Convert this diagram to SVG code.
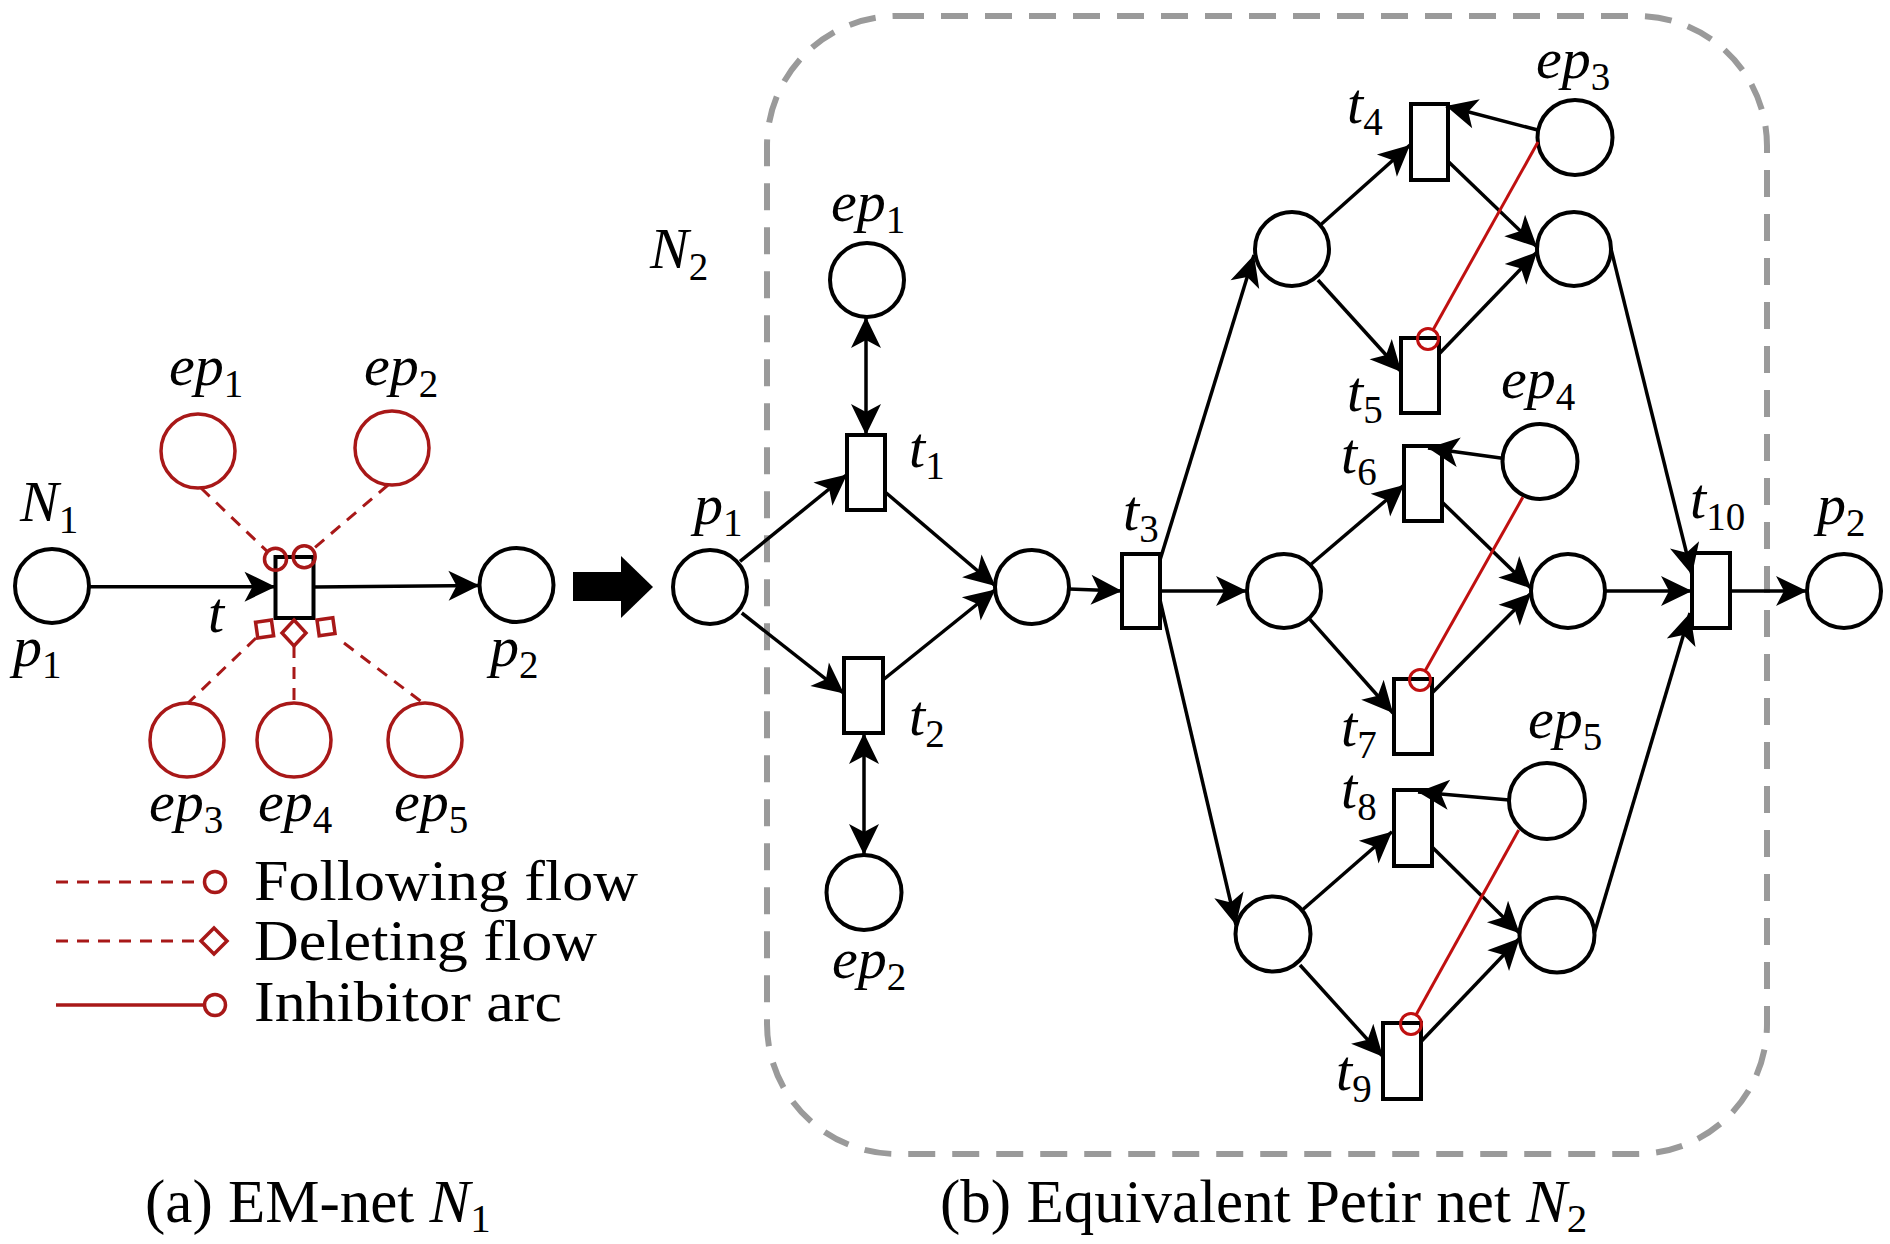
<svg xmlns="http://www.w3.org/2000/svg" width="1890" height="1244" viewBox="0 0 1890 1244">
<style>
text{font-family:"Liberation Serif","Times New Roman",serif;fill:#000}
.lb{font-size:58px;font-style:italic}
.sb{font-size:39px;font-style:normal}
.cap{font-size:61px}
.lg{font-size:58px}
.pl{fill:#fff;stroke:#000;stroke-width:4}
.tr{fill:#fff;stroke:#000;stroke-width:4}
.rp{fill:#fff;stroke:#a81818;stroke-width:3.5}
.ar{fill:none;stroke:#000;stroke-width:3.5;marker-end:url(#ah)}
.ar2{fill:none;stroke:#000;stroke-width:3.5;marker-end:url(#ah);marker-start:url(#ah)}
.rd{fill:none;stroke:#a81818;stroke-width:3;stroke-dasharray:12 9}
.ri{fill:none;stroke:#c01010;stroke-width:3}
.rs{fill:none;stroke:#a81818;stroke-width:3.5}
</style>
<defs>
<marker id="ah" viewBox="-32 -16 34 32" refX="0" refY="0" markerWidth="34" markerHeight="32" markerUnits="userSpaceOnUse" orient="auto-start-reverse">
<path d="M0,0 L-31,-15 L-23,0 L-31,15 Z" fill="#000"/>
</marker>
</defs>
<rect width="1890" height="1244" fill="#fff"/>

<!-- boundary of N2 -->
<rect id="boundary" x="767" y="16" width="1000" height="1138" rx="130" ry="130" fill="none" stroke="#9a9a9a" stroke-width="6" stroke-dasharray="27 17"/>

<!-- ============ Left panel (a) ============ -->
<g id="a-p1"><circle class="pl" cx="52" cy="586" r="37"/><text class="lb" x="13" y="666">p<tspan class="sb" dy="12">1</tspan></text></g>
<g id="a-t"><rect class="tr" x="275.5" y="557" width="38" height="61"/><text class="lb" x="208" y="632">t</text></g>
<g id="a-p2"><circle class="pl" cx="516.5" cy="585" r="37"/><text class="lb" x="490" y="666">p<tspan class="sb" dy="12">2</tspan></text></g>
<g id="a-ep1"><circle class="rp" cx="198" cy="451" r="37"/><text class="lb" x="169" y="385">ep<tspan class="sb" dy="12">1</tspan></text></g>
<g id="a-ep2"><circle class="rp" cx="392" cy="448" r="37"/><text class="lb" x="364" y="385">ep<tspan class="sb" dy="12">2</tspan></text></g>
<g id="a-ep3"><circle class="rp" cx="187" cy="740" r="37"/><text class="lb" x="149" y="821">ep<tspan class="sb" dy="12">3</tspan></text></g>
<g id="a-ep4"><circle class="rp" cx="294" cy="740" r="37"/><text class="lb" x="258" y="821">ep<tspan class="sb" dy="12">4</tspan></text></g>
<g id="a-ep5"><circle class="rp" cx="425" cy="740" r="37"/><text class="lb" x="394" y="821">ep<tspan class="sb" dy="12">5</tspan></text></g>
<text id="a-N1" class="lb" x="20" y="521">N<tspan class="sb" dy="12">1</tspan></text>

<g id="a-connectors">
<line class="ar" x1="89" y1="586.7" x2="275.5" y2="586.7"/>
<line class="ar" x1="313.8" y1="587" x2="479.5" y2="585.5"/>
<line class="rd" x1="201" y1="488" x2="267.5" y2="551.7"/>
<circle class="rs" cx="275.5" cy="559.3" r="11"/>
<line class="rd" x1="388" y1="485" x2="312.6" y2="549.5"/>
<circle class="rs" cx="304.2" cy="556.7" r="11"/>
<rect class="rs" x="256.6" y="621" width="16" height="16" transform="rotate(-8 264.6 629)"/>
<line class="rd" x1="256" y1="638" x2="188" y2="703"/>
<polygon class="rs" points="294,620 306,633 294,646 282,633"/>
<line class="rd" x1="294" y1="646" x2="294" y2="703"/>
<rect class="rs" x="318" y="618.7" width="16" height="16" transform="rotate(-8 326 626.7)"/>
<line class="rd" x1="344" y1="643" x2="423" y2="703"/>
</g>

<!-- legend -->
<g id="legend">
<line class="rd" x1="56" y1="882" x2="204" y2="882"/>
<circle class="rs" cx="215" cy="882" r="10.5"/>
<text class="lg" x="254" y="900" textLength="384" lengthAdjust="spacingAndGlyphs">Following flow</text>
<line class="rd" x1="56" y1="941" x2="201" y2="941"/>
<polygon class="rs" points="201,941 214,928 227,941 214,954"/>
<text class="lg" x="254" y="960" textLength="343" lengthAdjust="spacingAndGlyphs">Deleting flow</text>
<line class="rs" x1="56" y1="1005" x2="204" y2="1005"/>
<circle class="rs" cx="215" cy="1005" r="10.5"/>
<text class="lg" x="254" y="1021" textLength="308" lengthAdjust="spacingAndGlyphs">Inhibitor arc</text>
</g>

<!-- big transform arrow -->
<g id="big-arrow">
<rect x="573" y="572" width="50" height="29" fill="#000"/>
<polygon points="621,556 653,587 621,618" fill="#000"/>
</g>

<!-- ============ Right panel (b) ============ -->
<text id="b-N2" class="lb" x="650" y="268">N<tspan class="sb" dy="12">2</tspan></text>
<g id="b-p1"><circle class="pl" cx="710" cy="587" r="37"/><text class="lb" x="694" y="524">p<tspan class="sb" dy="12">1</tspan></text></g>
<g id="b-ep1"><circle class="pl" cx="867" cy="280" r="37"/><text class="lb" x="831" y="221">ep<tspan class="sb" dy="12">1</tspan></text></g>
<g id="b-t1"><rect class="tr" x="847" y="435" width="38" height="75"/><text class="lb" x="909" y="467">t<tspan class="sb" dy="12">1</tspan></text></g>
<g id="b-t2"><rect class="tr" x="844" y="658" width="39" height="75"/><text class="lb" x="909" y="735">t<tspan class="sb" dy="12">2</tspan></text></g>
<g id="b-ep2"><circle class="pl" cx="864" cy="892.5" r="37.5"/><text class="lb" x="832" y="978">ep<tspan class="sb" dy="12">2</tspan></text></g>
<g id="b-m"><circle class="pl" cx="1032" cy="587" r="37"/></g>
<g id="b-t3"><rect class="tr" x="1122" y="554" width="38" height="74"/><text class="lb" x="1123" y="530">t<tspan class="sb" dy="12">3</tspan></text></g>
<g id="b-a1"><circle class="pl" cx="1292" cy="249" r="37"/></g>
<g id="b-b1"><circle class="pl" cx="1574" cy="249" r="37"/></g>
<g id="b-ep3"><circle class="pl" cx="1575" cy="137.5" r="37.5"/><text class="lb" x="1536" y="78">ep<tspan class="sb" dy="12">3</tspan></text></g>
<g id="b-t4"><rect class="tr" x="1411" y="104" width="37" height="76"/><text class="lb" x="1347" y="123">t<tspan class="sb" dy="12">4</tspan></text></g>
<g id="b-t5"><rect class="tr" x="1401" y="338" width="38" height="75"/><text class="lb" x="1347" y="411">t<tspan class="sb" dy="12">5</tspan></text></g>
<g id="b-a2"><circle class="pl" cx="1284" cy="591" r="37"/></g>
<g id="b-b2"><circle class="pl" cx="1568" cy="591" r="37"/></g>
<g id="b-ep4"><circle class="pl" cx="1540" cy="461.5" r="37.5"/><text class="lb" x="1501" y="398">ep<tspan class="sb" dy="12">4</tspan></text></g>
<g id="b-t6"><rect class="tr" x="1404" y="446" width="38" height="75"/><text class="lb" x="1341" y="473">t<tspan class="sb" dy="12">6</tspan></text></g>
<g id="b-t7"><rect class="tr" x="1394" y="679" width="38" height="75"/><text class="lb" x="1341" y="746">t<tspan class="sb" dy="12">7</tspan></text></g>
<g id="b-a3"><circle class="pl" cx="1273" cy="934" r="37.5"/></g>
<g id="b-b3"><circle class="pl" cx="1557" cy="935" r="37.5"/></g>
<g id="b-ep5"><circle class="pl" cx="1547" cy="801" r="38"/><text class="lb" x="1528" y="738">ep<tspan class="sb" dy="12">5</tspan></text></g>
<g id="b-t8"><rect class="tr" x="1394" y="790" width="38" height="76"/><text class="lb" x="1341" y="808">t<tspan class="sb" dy="12">8</tspan></text></g>
<g id="b-t9"><rect class="tr" x="1383" y="1023" width="38" height="76"/><text class="lb" x="1336" y="1090">t<tspan class="sb" dy="12">9</tspan></text></g>
<g id="b-t10"><rect class="tr" x="1692" y="553" width="38" height="75"/><text class="lb" x="1690" y="518">t<tspan class="sb" dy="12">10</tspan></text></g>
<g id="b-p2"><circle class="pl" cx="1844" cy="591" r="37"/><text class="lb" x="1817" y="524">p<tspan class="sb" dy="12">2</tspan></text></g>

<g id="b-connectors">
<line class="ar" x1="740" y1="561.4" x2="847" y2="474.5"/>
<line class="ar" x1="741.8" y1="613" x2="844" y2="693.4"/>
<line class="ar2" x1="866" y1="317" x2="866" y2="435"/>
<line class="ar2" x1="864" y1="733" x2="864" y2="855"/>
<line class="ar" x1="885.7" y1="492.5" x2="995.4" y2="586"/>
<line class="ar" x1="882.9" y1="680" x2="995.4" y2="589.5"/>
<line class="ar" x1="1069" y1="589" x2="1122" y2="591"/>
<line class="ar" x1="1160" y1="560" x2="1254" y2="255"/>
<line class="ar" x1="1160" y1="591" x2="1247" y2="591"/>
<line class="ar" x1="1160" y1="600" x2="1236" y2="925"/>
<line class="ar" x1="1320.4" y1="225" x2="1410" y2="145"/>
<line class="ar" x1="1537.7" y1="130" x2="1446" y2="106"/>
<line class="ar" x1="1448.5" y1="161.7" x2="1537" y2="247"/>
<line class="ar" x1="1318" y1="280" x2="1401.5" y2="372"/>
<line class="ar" x1="1439" y1="354" x2="1537" y2="252"/>
<line class="ar" x1="1611" y1="249" x2="1692" y2="575"/>
<line class="ar" x1="1502.4" y1="458.3" x2="1428" y2="448"/>
<line class="ar" x1="1311.3" y1="564" x2="1404" y2="485"/>
<line class="ar" x1="1441.7" y1="501.7" x2="1531" y2="588.3"/>
<line class="ar" x1="1309" y1="618.3" x2="1393" y2="713"/>
<line class="ar" x1="1431.8" y1="693.3" x2="1531" y2="593.3"/>
<line class="ar" x1="1605" y1="591" x2="1692" y2="591"/>
<line class="ar" x1="1730" y1="591" x2="1807" y2="591"/>
<line class="ar" x1="1509.2" y1="800" x2="1418" y2="792"/>
<line class="ar" x1="1302.3" y1="910" x2="1392" y2="831.7"/>
<line class="ar" x1="1431.8" y1="846.7" x2="1519.6" y2="933.3"/>
<line class="ar" x1="1300" y1="965" x2="1383" y2="1056.7"/>
<line class="ar" x1="1420.9" y1="1041.7" x2="1519.6" y2="938.3"/>
<line class="ar" x1="1594.3" y1="933.3" x2="1690" y2="613"/>
<!-- inhibitor arcs -->
<line class="ri" x1="1538" y1="142" x2="1433" y2="330"/>
<circle class="ri" cx="1428" cy="339" r="10.5"/>
<line class="ri" x1="1522.8" y1="497.3" x2="1425.1" y2="670.8"/>
<circle class="ri" cx="1420" cy="680" r="10.5"/>
<line class="ri" x1="1518.7" y1="830" x2="1416.1" y2="1014.8"/>
<circle class="ri" cx="1411" cy="1024" r="10.5"/>
</g>

<!-- captions -->
<text id="cap-a" class="cap" x="145" y="1222">(a) EM-net <tspan font-style="italic">N</tspan><tspan font-size="41" dy="10">1</tspan></text>
<text id="cap-b" class="cap" x="940" y="1222">(b) Equivalent Petir net <tspan font-style="italic">N</tspan><tspan font-size="41" dy="10">2</tspan></text>
</svg>
